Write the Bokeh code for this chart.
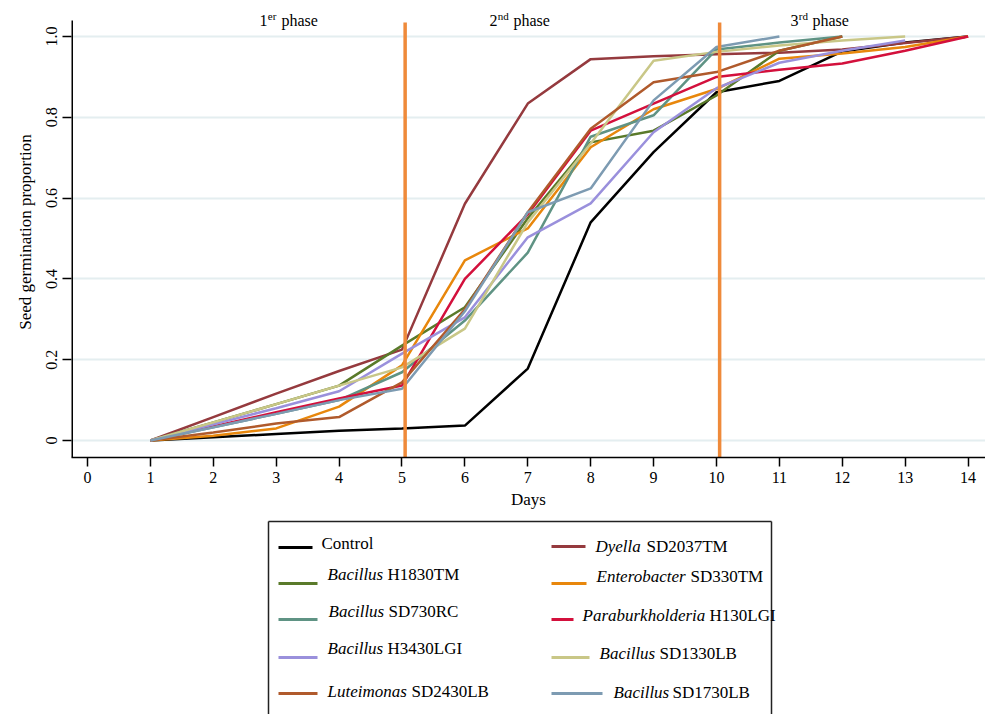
from bokeh.plotting import figure
from bokeh.models import Range1d, Label, FixedTicker, Title
from bokeh.layouts import column
from bokeh.embed import file_html
from bokeh.resources import INLINE
from bokeh.core.properties import value

# ---------------- data ----------------
days = list(range(1, 15))
control = [0, 0.008, 0.016, 0.024, 0.030, 0.037, 0.178, 0.540, 0.714, 0.862, 0.890, 0.963, 0.985, 1.0]
dyella_sd2037 = [0, 0.058, 0.116, 0.172, 0.225, 0.586, 0.834, 0.944, 0.951, 0.956, 0.960, 0.968, 0.984, 1.0]
bacillus_h1830 = [0, 0.045, 0.090, 0.136, 0.235, 0.330, 0.550, 0.738, 0.767, 0.854, 0.965, 1.0]
enterobacter_sd330 = [0, 0.012, 0.030, 0.084, 0.186, 0.446, 0.525, 0.726, 0.820, 0.870, 0.945, 0.958, 0.974, 1.0]
bacillus_sd730 = [0, 0.033, 0.066, 0.100, 0.169, 0.297, 0.465, 0.752, 0.805, 0.968, 0.985, 1.0]
paraburk_h130 = [0, 0.035, 0.070, 0.104, 0.136, 0.400, 0.560, 0.767, 0.834, 0.900, 0.918, 0.933, 0.965, 1.0]
bacillus_h3430 = [0, 0.040, 0.080, 0.122, 0.215, 0.305, 0.503, 0.587, 0.763, 0.872, 0.935, 0.965, 0.990]
bacillus_sd1330 = [0, 0.045, 0.090, 0.136, 0.181, 0.277, 0.540, 0.735, 0.940, 0.962, 0.978, 0.990, 1.0]
luteimonas_sd2430 = [0, 0.020, 0.042, 0.058, 0.144, 0.325, 0.565, 0.772, 0.887, 0.912, 0.965, 1.0]
bacillus_sd1730 = [0, 0.033, 0.066, 0.100, 0.128, 0.320, 0.565, 0.624, 0.842, 0.974, 1.0]

phase_bounds = [5.05, 10.05]
x_ticks = list(range(0, 15))
y_ticks = [0, 0.2, 0.4, 0.6, 0.8, 1.0]
y_tick_labels = ["0", "0.2", "0.4", "0.6", "0.8", "1.0"]

series = [
    ("Control", "", control, "#000000"),
    ("Dyella", "SD2037TM", dyella_sd2037, "#953a3e"),
    ("Bacillus", "H1830TM", bacillus_h1830, "#5a7a2a"),
    ("Enterobacter", "SD330TM", enterobacter_sd330, "#e8870c"),
    ("Bacillus", "SD730RC", bacillus_sd730, "#5f9384"),
    ("Paraburkholderia", "H130LGI", paraburk_h130, "#d3103c"),
    ("Bacillus", "H3430LGI", bacillus_h3430, "#9a90dc"),
    ("Bacillus", "SD1330LB", bacillus_sd1330, "#c9c787"),
    ("Luteimonas", "SD2430LB", luteimonas_sd2430, "#b05a2c"),
    ("Bacillus", "SD1730LB", bacillus_sd1730, "#7d9bb2"),
]

FONT = "Liberation Serif"
X0, X1 = -0.2544, 14.277
Y0, Y1 = -0.042, 1.0743

# ---------------- main plot ----------------
p = figure(width=985, height=512, output_backend="svg", toolbar_location=None,
           x_range=Range1d(X0, X1), y_range=Range1d(Y0, Y1),
           min_border_left=71, min_border_right=0, min_border_top=6, min_border_bottom=55)
p.outline_line_color = None
p.xgrid.grid_line_color = None
p.ygrid.grid_line_color = "#e4eef0"
p.ygrid.grid_line_width = 2
p.ygrid.ticker = FixedTicker(ticks=y_ticks)

p.xaxis.ticker = FixedTicker(ticks=x_ticks)
p.yaxis.ticker = FixedTicker(ticks=y_ticks)
p.yaxis.major_label_overrides = {t: l for t, l in zip(y_ticks, y_tick_labels)}
for ax in (p.xaxis[0], p.yaxis[0]):
    ax.axis_line_color = "#000000"
    ax.axis_line_width = 1.5
    ax.major_tick_line_color = "#000000"
    ax.major_tick_line_width = 1.5
    ax.major_tick_out = 9
    ax.major_tick_in = 0
    ax.minor_tick_line_color = None
    ax.major_label_text_font = FONT
    ax.major_label_text_font_size = "16px"
    ax.major_label_text_color = "#000000"
    ax.major_label_standoff = 5
p.yaxis.major_label_orientation = "vertical"
p.yaxis.axis_line_color = None

p.xaxis.axis_label = "Days"
p.xaxis.axis_label_text_font = FONT
p.xaxis.axis_label_text_font_size = "17px"
p.xaxis.axis_label_text_font_style = "normal"
p.xaxis.axis_label_text_color = "#000000"
p.xaxis.axis_label_standoff = 4

p.add_layout(Title(text="Seed germination proportion", align="center", offset=16, standoff=17,
                   text_font=FONT, text_font_size="17px", text_font_style="normal",
                   text_color="#000000"), "left")

# own y-axis line (shorter than the frame)
p.segment(x0=[X0], y0=[Y0], x1=[X0], y1=[1.0396], line_color="#000000", line_width=3)

for name, strain, vals, col in series:
    p.line(days[:len(vals)], vals, line_color=col, line_width=2.5)

for b in phase_bounds:
    p.segment(x0=[b], y0=[Y0], x1=[b], y1=[1.035], line_color="#ef8a3a", line_width=3.5)

# phase titles
phases = [("1", "er", 2.862, 14), ("2", "nd", 6.518, 16), ("3", "rd", 11.304, 14)]
for num, sup, xa, gap in phases:
    p.add_layout(Label(x=xa, y=1.0396, text=num, text_font=FONT, text_font_size="16px",
                       text_align="right", text_baseline="middle", text_color="#000000"))
    p.add_layout(Label(x=xa + 0.005, y=1.0396 + 5 / 404, text=sup, text_font=FONT, text_font_size="11px",
                       text_align="left", text_baseline="middle", text_color="#000000"))
    p.add_layout(Label(x=xa + gap / 62.9, y=1.0396, text="phase", text_font=FONT, text_font_size="16px",
                       text_align="left", text_baseline="middle", text_color="#000000"))

# ---------------- legend (page-pixel coordinates) ----------------
lg = figure(width=985, height=202, output_backend="svg", toolbar_location=None,
            x_range=Range1d(71, 985), y_range=Range1d(714, 512),
            min_border_left=71, min_border_right=0, min_border_top=0, min_border_bottom=0)
lg.axis.visible = False
lg.grid.visible = False
lg.outline_line_color = None

# box (bottom edge is beyond the page)
lg.segment(x0=[268, 268, 771], y0=[521, 521, 521], x1=[268, 771, 771], y1=[730, 521, 730],
           line_color="#222222", line_width=1.5)

# legend layout: (series index, line x0, line x1, line y, genus x, strain x, text y)
legend_rows = [
    (0, 278, 312, 547, 321, None, 543),
    (2, 278, 317, 583, 327, 387, 574),
    (4, 278, 317, 619, 328, 388, 611),
    (6, 278, 317, 657, 327, 387, 648),
    (8, 278, 317, 693, 327, 411, 691),
    (1, 551, 585, 546, 595, 646, 546),
    (3, 551, 586, 583, 596, 690, 576),
    (5, 551, 573, 619, 582, 709, 615),
    (7, 551, 589, 657, 599, 659, 653),
    (9, 551, 602, 693, 613, 672, 692),
]
for idx, lx0, lx1, ly, gx, sx, ty in legend_rows:
    name, strain, vals, col = series[idx]
    lg.segment(x0=[lx0], y0=[ly], x1=[lx1], y1=[ly], line_color=col, line_width=3)
    style = "normal" if idx == 0 else "italic"
    lg.text(x=[gx], y=[ty], text=[name], text_font=value(FONT), text_font_size=value("17px"),
            text_font_style=value(style), text_align="left", text_baseline="middle", text_color="#000000")
    if sx is not None:
        lg.text(x=[sx], y=[ty], text=[strain], text_font=value(FONT), text_font_size=value("17px"),
                text_font_style=value("normal"), text_align="left", text_baseline="middle",
                text_color="#000000")

layout = column(p, lg, spacing=0)
open("out.html", "w").write(file_html(layout, INLINE))
